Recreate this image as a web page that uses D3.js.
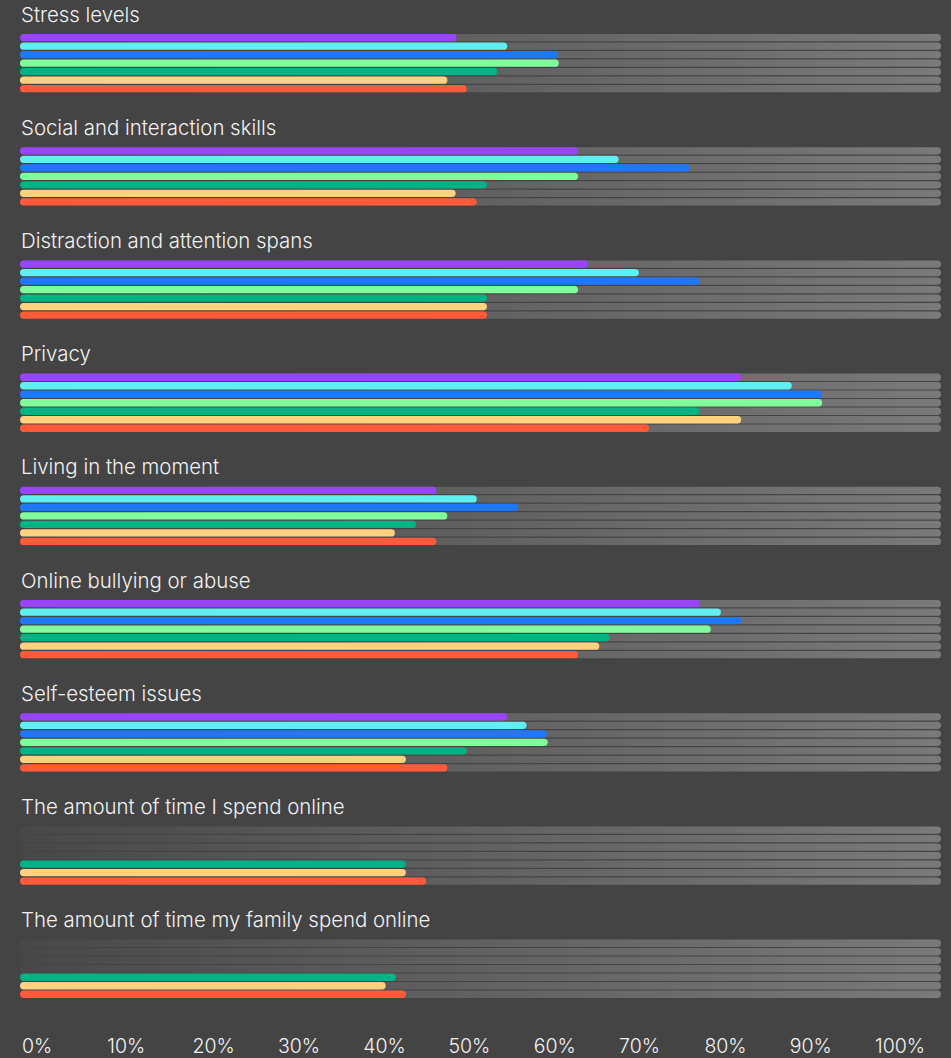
<!DOCTYPE html>
<html>
<head>
<meta charset="utf-8">
<script src="https://cdn.jsdelivr.net/npm/d3@7"></script>
<style>
  html, body { margin: 0; padding: 0; background: #444444; }
  svg { display: block; }
</style>
</head>
<body>
<svg width="951" height="1058"></svg>
<script>
var topics = [
  "Stress levels",
  "Social and interaction skills",
  "Distraction and attention spans",
  "Privacy",
  "Living in the moment",
  "Online bullying or abuse",
  "Self-esteem issues",
  "The amount of time I spend online",
  "The amount of time my family spend online"
];

var series = ["s1", "s2", "s3", "s4", "s5", "s6", "s7"];
var colors = ["#9945ff", "#60eef0", "#1f77fe", "#80fc9c", "#00b384", "#ffd27f", "#ff5b3a"];

// one array per series, in topic order (null = no bar)
var s1 = [47.4, 60.6, 61.7, 78.3, 45.2, 73.8, 52.9, null, null];
var s2 = [52.9, 65.0, 67.2, 83.8, 49.6, 76.1, 55.0, null, null];
var s3 = [58.4, 72.7, 73.8, 87.1, 54.1, 78.3, 57.2, null, null];
var s4 = [58.5, 60.6, 60.6, 87.1, 46.4, 75.0, 57.3, null, null];
var s5 = [51.8, 50.7, 50.7, 73.8, 43.0, 64.0, 48.5, 41.9, 40.8];
var s6 = [46.4, 47.3, 50.7, 78.3, 40.7, 62.9, 41.9, 41.9, 39.7];
var s7 = [48.5, 49.6, 50.7, 68.3, 45.2, 60.6, 46.4, 44.1, 41.9];

var tickLabels = ["0%", "10%", "20%", "30%", "40%", "50%", "60%", "70%", "80%", "90%", "100%"];

var allSeries = [s1, s2, s3, s4, s5, s6, s7];

var svg = d3.select("svg"),
  width = +svg.attr("width"),
  height = +svg.attr("height");

var x = d3.scaleLinear()
  .domain([0, 100])
  .range([20, 941]);

var groupY = d3.scaleBand()
  .domain(topics)
  .range([34, 34 + 9 * 113.2])
  .paddingInner(0)
  .paddingOuter(0);

var rowY = d3.scaleBand()
  .domain(series)
  .range([0, 58.3])
  .paddingInner(0.141)
  .paddingOuter(0);

var color = d3.scaleOrdinal()
  .domain(series)
  .range(colors);

var bh = rowY.bandwidth();

// track gradient
var defs = svg.append("defs");
var grad = defs.append("linearGradient")
  .attr("id", "track")
  .attr("gradientUnits", "userSpaceOnUse")
  .attr("x1", x(0)).attr("x2", x(100))
  .attr("y1", 0).attr("y2", 0);
grad.append("stop").attr("offset", "0%").attr("stop-color", "#484848");
grad.append("stop").attr("offset", "100%").attr("stop-color", "#7a7a7a");

var groups = svg.append("g")
  .selectAll("g")
  .data(topics)
  .enter().append("g")
  .attr("transform", function(d) { return "translate(0," + groupY(d) + ")"; });

groups.append("text")
  .attr("x", 21)
  .attr("y", -12.5)
  .attr("fill", "#f2f2f2")
  .attr("font-family", "Inter, 'Open Sans', sans-serif")
  .attr("font-weight", 300)
  .attr("font-size", 20.4)
  .text(function(d) { return d; });

// background tracks
groups.selectAll("rect.track")
  .data(series)
  .enter().append("rect")
  .attr("class", "track")
  .attr("x", x(0))
  .attr("y", function(d) { return rowY(d); })
  .attr("width", x(100) - x(0))
  .attr("height", bh)
  .attr("rx", bh / 2)
  .attr("fill", "url(#track)");

// value bars
groups.selectAll("rect.bar")
  .data(function(t, i) {
    return series.map(function(s, j) { return { key: s, value: allSeries[j][i] }; })
      .filter(function(d) { return d.value != null; });
  })
  .enter().append("rect")
  .attr("class", "bar")
  .attr("x", x(0))
  .attr("y", function(d) { return rowY(d.key); })
  .attr("width", function(d) { return x(d.value) - x(0); })
  .attr("height", bh)
  .attr("rx", bh / 2)
  .attr("fill", function(d) { return color(d.key); });

// bottom percentage labels
var labelX = d3.scalePoint()
  .domain(tickLabels)
  .range([22, 875]);

svg.append("g")
  .selectAll("text")
  .data(tickLabels)
  .enter().append("text")
  .attr("x", function(d) { return labelX(d); })
  .attr("y", 1053)
  .attr("fill", "#f2f2f2")
  .attr("font-family", "Inter, 'Open Sans', sans-serif")
  .attr("font-weight", 300)
  .attr("font-size", 19.5)
  .text(function(d) { return d; });
</script>
</body>
</html>
